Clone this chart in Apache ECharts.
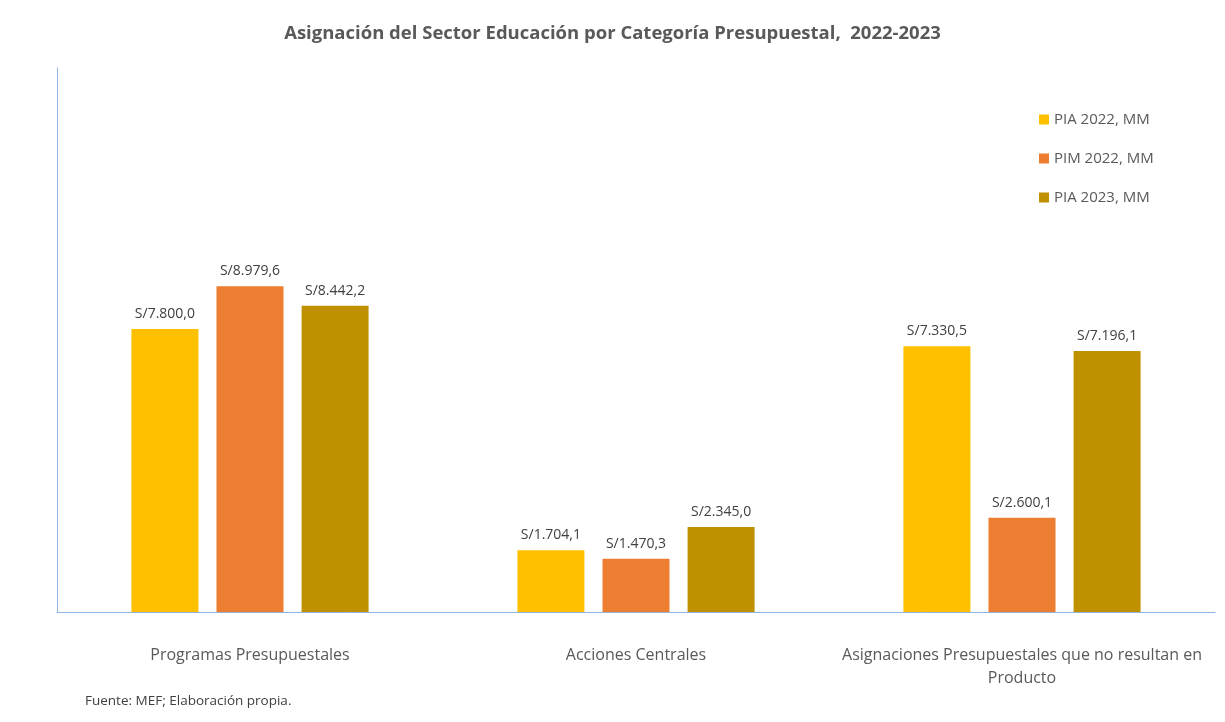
<!DOCTYPE html>
<html>
<head>
<meta charset="utf-8">
<title>Asignación del Sector Educación</title>
<script src="https://cdn.jsdelivr.net/npm/echarts@6/dist/echarts.min.js"></script>
<style>
    html, body { margin: 0; padding: 0; background: #fff; }
    #container { width: 1225px; height: 722px; }
</style>
</head>
<body>
<div id="container"></div>
<script type="text/javascript">
    // datos (millones de soles)
    var categorias = ['Programas Presupuestales', 'Acciones Centrales', 'Asignaciones Presupuestales que no resultan en\nProducto'];
    var pia2022 = [7800.0, 1704.1, 7330.5];
    var pim2022 = [8979.6, 1470.3, 2600.1];
    var pia2023 = [8442.2, 2345.0, 7196.1];
    var nombres = ['PIA 2022, MM', 'PIM 2022, MM', 'PIA 2023, MM'];
    var colores = ['#FFC000', '#ED7D31', '#BF9000'];

    var fuente = '"Open Sans", "Liberation Sans", sans-serif';

    // formato S/8.979,6
    function soles(v) {
        var partes = v.toFixed(1).split('.');
        var entero = partes[0].replace(/\B(?=(\d{3})+(?!\d))/g, '.');
        return 'S/' + entero + ',' + partes[1];
    }

    function serie(nombre, datos, color) {
        return {
            name: nombre,
            type: 'bar',
            data: datos,
            barWidth: 67,
            barGap: '27%',
            itemStyle: { color: color },
            label: {
                show: true,
                position: 'top',
                distance: 8,
                color: '#404040',
                fontSize: 14,
                fontFamily: fuente,
                formatter: function (p) { return soles(p.value); }
            }
        };
    }

    var myChart = echarts.init(document.getElementById('container'));
    var option = {
        backgroundColor: '#fff',
        animation: false,
        title: {
            text: 'Asignación del Sector Educación por Categoría Presupuestal,  2022-2023',
            left: 'center',
            top: 19,
            textStyle: { color: '#595959', fontSize: 18.5, fontWeight: 'bold', fontFamily: fuente }
        },
        graphic: [{
            type: 'text',
            left: 85,
            top: 694,
            style: { text: 'Fuente: MEF; Elaboración propia.', fill: '#404040', fontSize: 13.5, fontFamily: fuente }
        }],
        legend: {
            data: nombres,
            orient: 'vertical',
            left: 1034,
            top: 107,
            itemWidth: 10,
            itemHeight: 10,
            itemGap: 24,
            icon: 'rect',
            textStyle: { color: '#595959', fontSize: 15, fontFamily: fuente }
        },
        grid: { left: 57, right: 10, top: 68, bottom: 110 },
        xAxis: {
            type: 'category',
            data: categorias,
            axisLine: { lineStyle: { color: '#8EB4E3', width: 1 } },
            axisTick: { show: false },
            axisLabel: {
                color: '#595959',
                fontSize: 16,
                fontFamily: fuente,
                margin: 32,
                lineHeight: 23,
                align: 'center',
                interval: 0
            }
        },
        yAxis: {
            type: 'value',
            min: 0,
            max: 15000,
            axisLine: { show: true, lineStyle: { color: '#8EB4E3', width: 1 } },
            axisTick: { show: false },
            axisLabel: { show: false },
            splitLine: { show: false }
        },
        series: [
            serie(nombres[0], pia2022, colores[0]),
            serie(nombres[1], pim2022, colores[1]),
            serie(nombres[2], pia2023, colores[2])
        ]
    };
    myChart.setOption(option);
</script>
</body>
</html>
